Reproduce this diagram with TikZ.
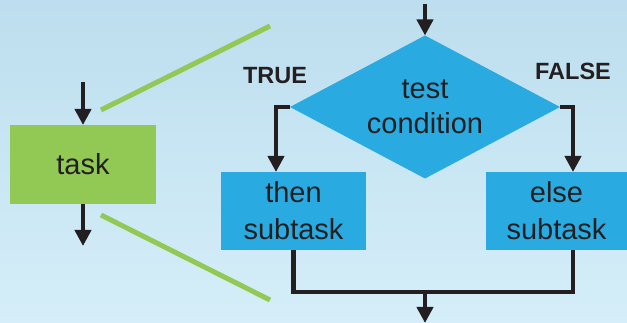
\documentclass[tikz,border=0pt]{standalone}
\usepackage{fontspec}
\setmainfont{Liberation Sans}
\usetikzlibrary{arrows.meta,shapes.geometric}
\definecolor{bgtop}{HTML}{BDDEEE}
\definecolor{bgbot}{HTML}{D5EEF9}
\definecolor{taskgreen}{HTML}{92C955}
\definecolor{stepblue}{HTML}{29ABE2}
\definecolor{ink}{HTML}{231F20}
\begin{document}
\begin{tikzpicture}[x=1pt,y=-1pt,
  flow/.style={draw=ink,line width=4.5pt,-{Triangle[length=16pt,width=16pt]}},
  link/.style={draw=ink,line width=4.5pt},
  zoomline/.style={draw=taskgreen,line width=5pt},
  boxtext/.style={font=\fontsize{29}{37}\selectfont,text=ink,align=center},
  stepbox/.style={rectangle,boxtext,inner sep=0pt,outer sep=0pt,fill=stepblue},
  branchlabel/.style={font=\fontsize{23.5}{28}\selectfont\bfseries,text=ink}
]
% background
\shade[top color=bgtop,bottom color=bgbot] (0,0) rectangle (627,323);
\useasboundingbox (0,0) rectangle (627,323);

% single task and its expansion lines
\node[stepbox,fill=taskgreen,minimum width=146pt,minimum height=79pt] (task) at (83,164.5) {task};
\coordinate (taskin) at (83,82);
\coordinate (taskout) at (83,246);
\draw[flow] (taskin) -- (task.north);
\draw[flow] (task.south) -- (taskout);
\coordinate (zt1) at (101,110);
\coordinate (zt2) at (270,26);
\coordinate (zb1) at (101,215);
\coordinate (zb2) at (270,300);
\draw[zoomline] (zt1) -- (zt2);
\draw[zoomline] (zb1) -- (zb2);

% if-then-else structure
\node[diamond,fill=stepblue,boxtext,inner sep=-6pt,outer sep=0pt,aspect=1.89,
      minimum width=270pt,minimum height=143pt] (cond) at (425,107) {test\\[-2pt]condition};
\node[stepbox,minimum width=145pt,minimum height=78pt] (then) at (293.5,211) {then\\subtask};
\node[stepbox,minimum width=141pt,minimum height=78pt] (else) at (556.5,211) {else\\subtask};

\node[branchlabel] (true) at (275,76) {TRUE};
\node[branchlabel] (false) at (573,71.5) {FALSE};

\coordinate (condin) at (425,4);
\draw[flow] (condin) -- (cond.north);
\coordinate (leftx) at (276,0);
\coordinate (rightx) at (573,0);
\draw[flow] (cond.west) -| (leftx |- then.north);
\draw[flow] (cond.east) -| (rightx |- else.north);

\coordinate (merge) at (573,292);
\coordinate (mid) at (425,292);
\coordinate (out) at (425,323);
\draw[link] (then.south) |- (merge) -- (merge |- else.south);
\draw[flow] (mid) -- (out);
\end{tikzpicture}
\end{document}
